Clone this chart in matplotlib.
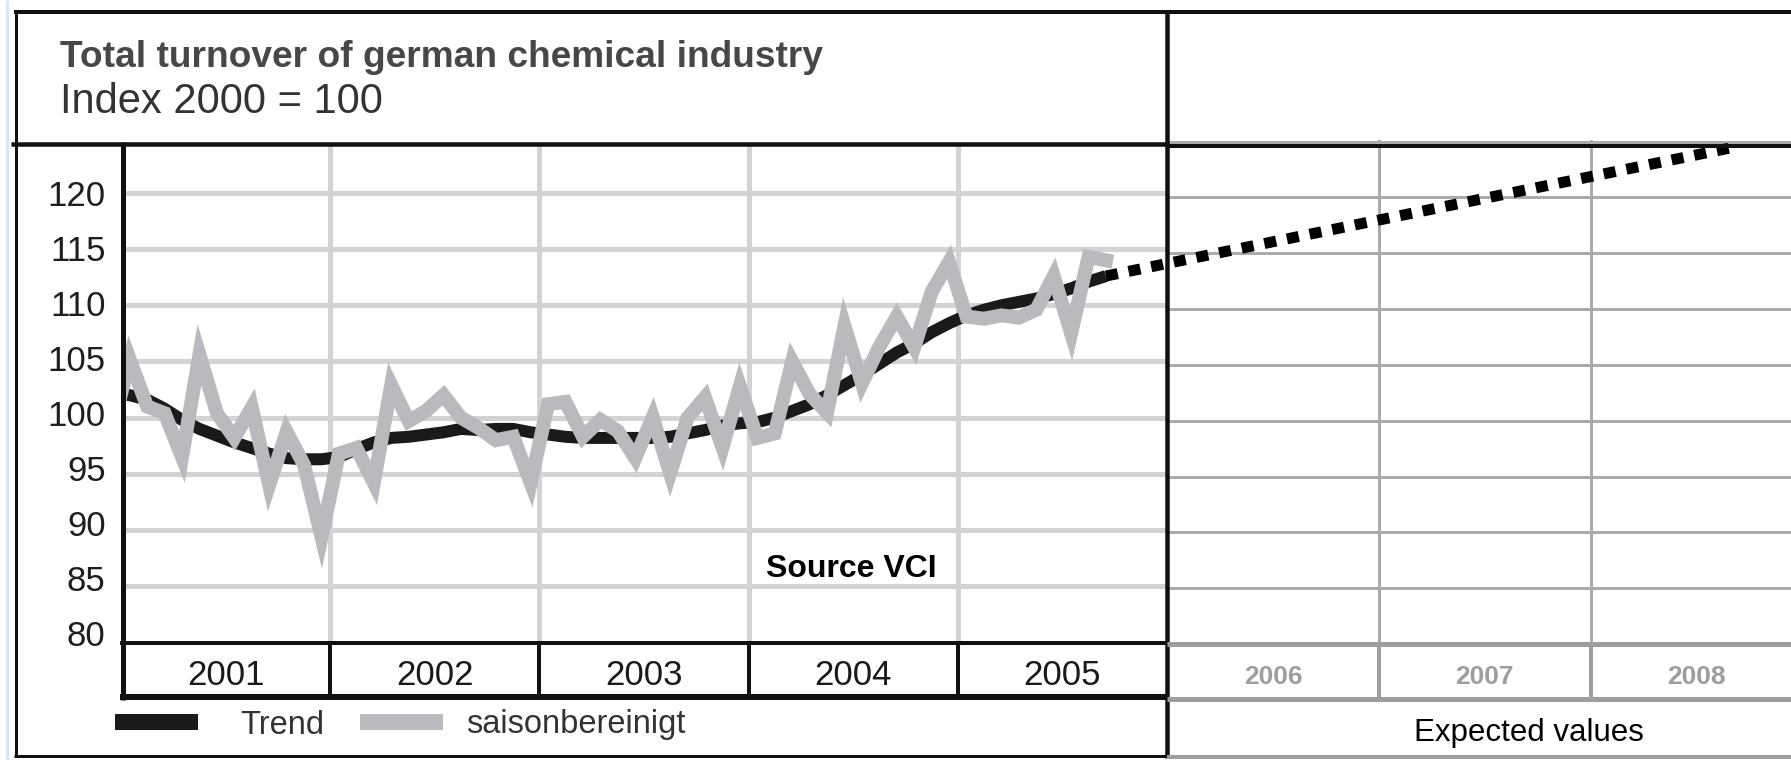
import matplotlib
matplotlib.use("Agg")
import matplotlib.pyplot as plt
from matplotlib.lines import Line2D
import matplotlib.transforms as mtransforms
import numpy as np

plt.rcParams['font.family'] = ['Liberation Sans', 'DejaVu Sans']

# ---------------- data ----------------
title_line1 = "Total turnover of german chemical industry"
title_line2 = "Index 2000 = 100"
source_text = "Source VCI"
expected_text = "Expected values"
series_names = ["Trend", "saisonbereinigt"]
years = [2001, 2002, 2003, 2004, 2005]
forecast_years = [2006, 2007, 2008]
y_ticks = [80, 85, 90, 95, 100, 105, 110, 115, 120]
first_month = 2000 + 11.5 / 12.0   # mid December 2000 (line enters from the y axis)

# monthly values, Dec 2000 .. Sep 2005
saisonbereinigt = [99.0,
                   105.2, 101.0, 100.4, 96.5, 105.6, 100.4, 98.2, 100.9, 94.0, 98.75, 95.8, 89.4,
                   96.8, 97.3, 94.2, 102.9, 99.7, 100.6, 102.0, 100.0, 99.1, 98.0, 98.3, 94.2,
                   101.2, 101.4, 98.3, 99.8, 98.8, 96.4, 100.05, 95.05, 100.0, 101.8, 97.35, 102.8,
                   98.2, 98.6, 105.0, 102.1, 100.45, 108.15, 103.05, 106.3, 109.0, 106.25, 111.2, 113.85,
                   109.0, 108.8, 109.1, 108.9, 109.6, 112.6, 107.5, 114.3, 114.0]
trend = [102.2,
         102.0, 101.6, 100.8, 99.8, 99.0, 98.4, 97.8, 97.3, 96.8, 96.4, 96.3, 96.3,
         96.5, 97.2, 97.8, 98.2, 98.3, 98.5, 98.7, 99.0, 98.9, 99.0, 99.0, 98.7,
         98.5, 98.3, 98.2, 98.2, 98.2, 98.2, 98.2, 98.3, 98.6, 98.9, 99.3, 99.5,
         99.6, 100.0, 100.6, 101.2, 102.0, 102.9, 103.8, 104.8, 105.8, 106.6, 107.6, 108.4,
         109.1, 109.6, 110.0, 110.3, 110.6, 111.0, 111.5, 112.1, 112.6]
forecast_x = [2005.708, 2008.72]
forecast_y = [112.6, 124.1]

# ---------------- layout helpers ----------------
W, H, DPI = 1791, 760, 100
PT = 72.0 / DPI
fig = plt.figure(figsize=(W / DPI, H / DPI), dpi=DPI)
fig.patch.set_facecolor("white")


def axes_px(x0, y0, x1, y1):
    return fig.add_axes([x0 / W, 1 - y1 / H, (x1 - x0) / W, (y1 - y0) / H])


def fline(xs, ys, lw, color="#111111", z=5):
    fig.add_artist(Line2D([x / W for x in xs], [1 - y / H for y in ys],
                          transform=fig.transFigure, lw=lw * PT, color=color,
                          solid_capstyle="butt", zorder=z))


GRID_L = "#d2d3d5"
GRID_R = "#ababab"
BOX_R = "#9e9e9e"
GRAY_LINE = "#b9babd"
BLACK_LINE = "#1a1a1a"

# ---------------- main chart (2001-2005) ----------------
axL = axes_px(121, 143.4, 1167, 642.5)
axL.set_xlim(2001, 2006)
axL.set_ylim(80, 124.4)
axL.patch.set_visible(False)
for s in axL.spines.values():
    s.set_visible(False)
axL.set_xticks(years[1:])
axL.set_xticklabels([])
axL.set_yticks(y_ticks)
axL.set_yticklabels([str(v) for v in y_ticks])
axL.tick_params(axis="both", length=0)
axL.tick_params(axis="y", pad=11, labelsize=25, labelcolor="#1e1e1e")
axL.grid(True, color=GRID_L, lw=5 * PT)
axL.set_axisbelow(True)
axL.set_zorder(3)

# tick labels drift slightly upward in the original scan
for v, lab in zip(y_ticks, axL.get_yticklabels()):
    dy = (120 - v) / 40.0 * 9.5 / DPI
    lab.set_transform(lab.get_transform() +
                      mtransforms.ScaledTranslation(0, dy, fig.dpi_scale_trans))

months = first_month + np.arange(len(saisonbereinigt)) / 12.0
axL.plot(months, trend, color=BLACK_LINE, lw=12 * PT, solid_joinstyle="round",
         solid_capstyle="butt", zorder=3)
axL.plot(months, saisonbereinigt, color=GRAY_LINE, lw=14 * PT, solid_joinstyle="miter",
         solid_capstyle="projecting", zorder=4)
axL.plot(forecast_x, forecast_y, color="black", lw=11 * PT, linestyle=(0, (1.1, 1.0)),
         dash_capstyle="butt", clip_on=False, zorder=6)
axL.text(2004.083, 86.55, source_text, fontsize=23, fontweight="bold",
         color="black", va="center", ha="left", zorder=7)

# ---------------- expected-values panel (2006-2008) ----------------
axR = axes_px(1167, 140, 1791, 644)
axR.set_xlim(2006, 2008.945)
axR.set_ylim(80, 125.15)
for s in axR.spines.values():
    s.set_visible(False)
axR.set_xticks(forecast_years[1:])
axR.set_yticks(y_ticks + [125])
axR.set_xticklabels([])
axR.set_yticklabels([])
axR.tick_params(axis="both", length=0)
axR.grid(True, color=GRID_R, lw=3 * PT)
axR.set_zorder(1)

# ---------------- year boxes ----------------
axYL = axes_px(121, 643, 1167, 697)
axYL.set_xlim(2001, 2006)
axYL.set_ylim(0, 1)
axYL.axis("off")
axYL.vlines(years[1:], 0, 1, color="#111111", lw=4 * PT)
for y in years:
    axYL.text(y + 0.5, 0.4, str(y), ha="center", va="center", fontsize=25, color="#1a1a1a")

axYR = axes_px(1167, 644, 1791, 699)
axYR.set_xlim(2006, 2008.945)
axYR.set_ylim(0, 1)
axYR.axis("off")
axYR.vlines(forecast_years[1:], 0, 1, color=BOX_R, lw=4 * PT)
for y in forecast_years:
    axYR.text(y + 0.5, 0.4, str(y), ha="center", va="center", fontsize=19,
              fontweight="bold", color="#9d9d9d")

# ---------------- frame lines ----------------
fline([7, 7], [0, 760], 3, color="#d6e6f8", z=4)
fline([16, 16], [10, 757], 3)
fline([14, 1791], [12, 12], 4)
fline([11, 1167], [144, 144], 4.5)
fline([1167, 1791], [146, 146], 4)
fline([1167, 1167], [10, 758], 4.5)
fline([122.5, 122.5], [142, 700], 5)
fline([120, 1167], [643, 643], 4)
fline([120, 1167], [697, 697], 6)
fline([14, 1167], [755.5, 755.5], 3)
fline([1167, 1791], [644, 644], 5, color=BOX_R)
fline([1167, 1791], [699, 699], 5, color=BOX_R)
fline([1167, 1791], [757, 757], 4, color=BOX_R)

# ---------------- texts ----------------
fig.text(60 / W, 1 - 66.7 / H, title_line1, fontsize=26.7, fontweight="bold",
         color="#474747", va="baseline", ha="left")
fig.text(60 / W, 1 - 113 / H, title_line2, fontsize=30, color="#333333",
         va="baseline", ha="left")
fig.text(1529 / W, 1 - 733 / H, expected_text, fontsize=22.5, color="black",
         ha="center", va="center")

# legend: two entries, placed as in the original
legend_colors = [BLACK_LINE, GRAY_LINE]
legend_left_px = [115, 360]
legend_textpad = [1.29, 0.7]
for name, col, xpx, pad in zip(series_names, legend_colors, legend_left_px, legend_textpad):
    h = Line2D([], [], color=col, lw=16 * PT, solid_capstyle="butt")
    leg = fig.legend([h], [name], loc="center left",
                     bbox_to_anchor=(xpx / W, 1 - 725 / H), frameon=False,
                     fontsize=23.5, handlelength=2.54, handletextpad=pad,
                     borderpad=0, borderaxespad=0)
    for t in leg.get_texts():
        t.set_color("#333333")

fig.savefig("out.png", dpi=DPI, facecolor="white")
